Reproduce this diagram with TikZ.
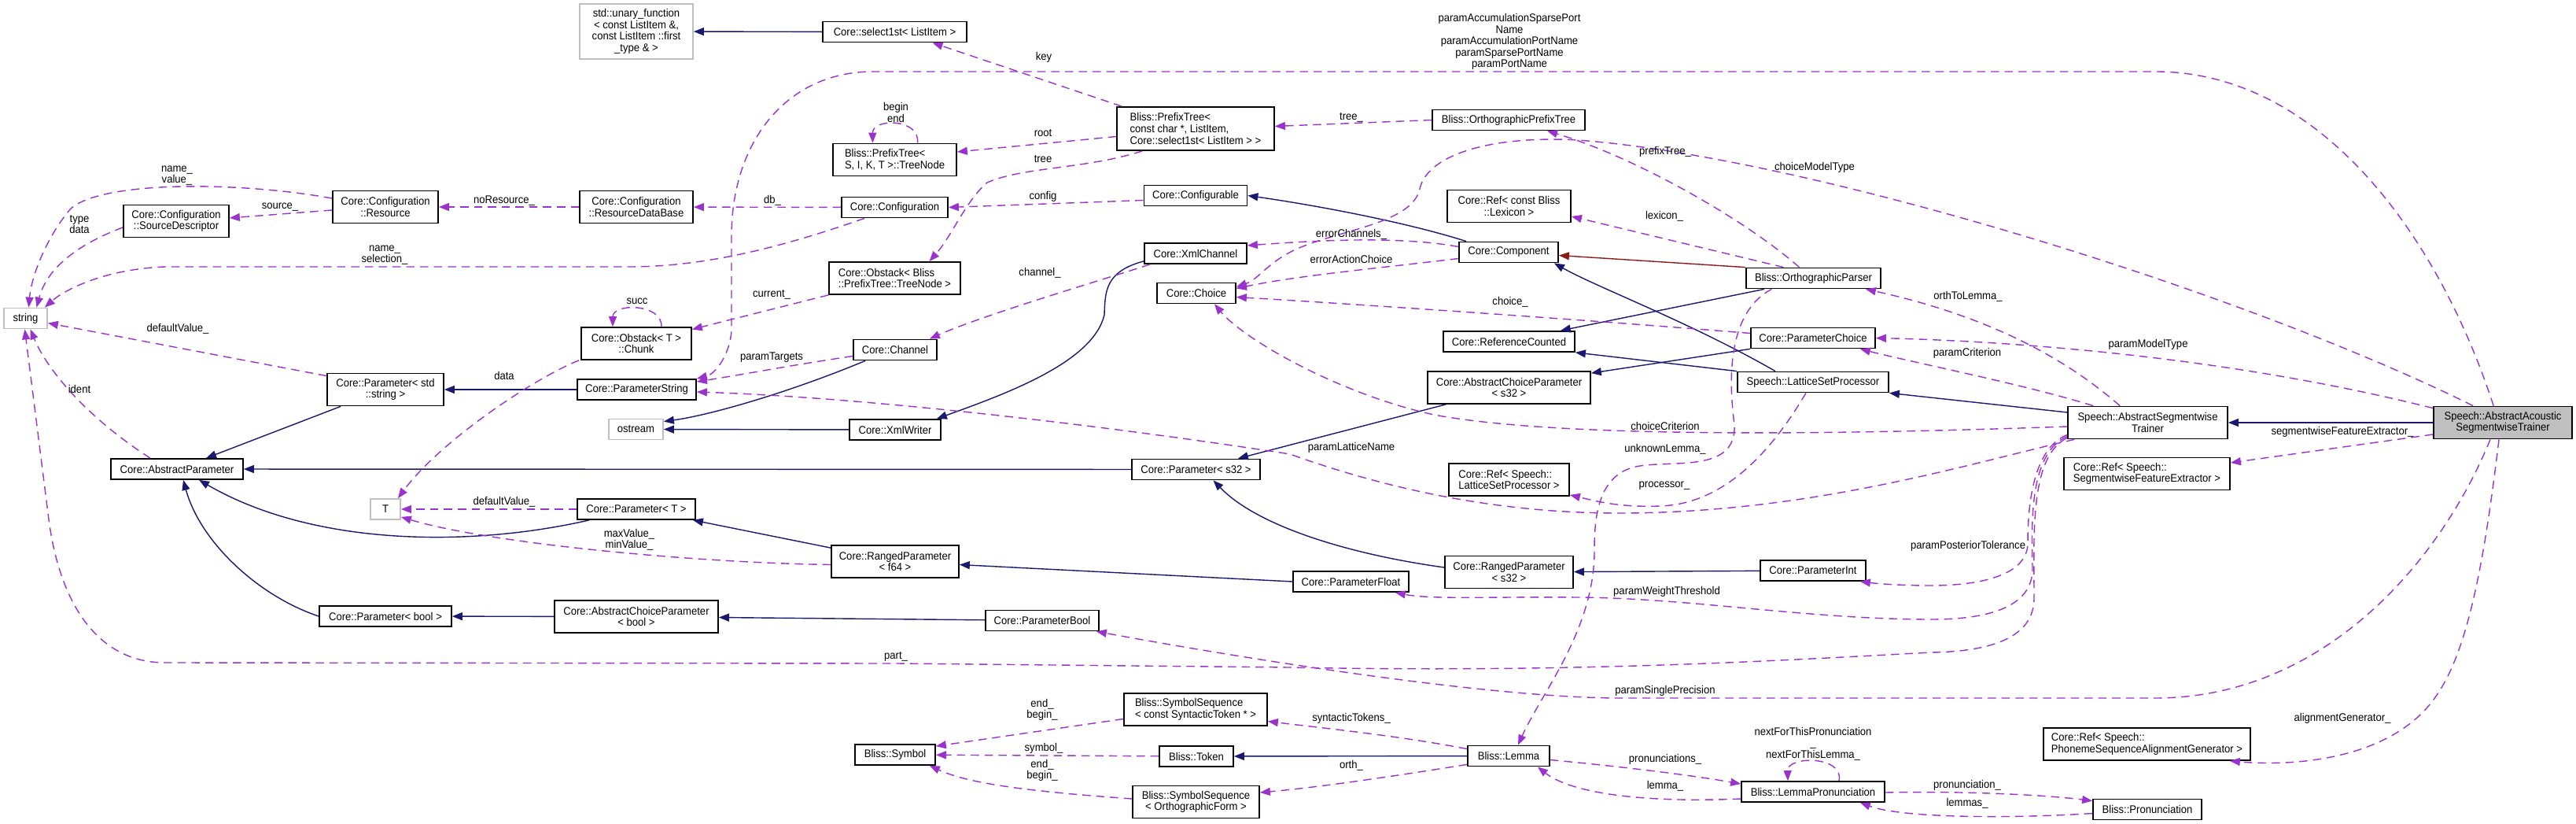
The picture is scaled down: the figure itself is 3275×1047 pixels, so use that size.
\documentclass[tikz,border=0pt]{standalone}
\usepackage{fontspec}
\setmainfont{Liberation Sans}[FakeStretch=0.93]
\usetikzlibrary{arrows.meta,calc}
\definecolor{dxnavy}{RGB}{25,25,112}
\definecolor{dxpurple}{RGB}{154,50,205}
\definecolor{dxred}{RGB}{139,26,26}
\definecolor{dxgray}{RGB}{191,191,191}

\begin{document}
\begin{tikzpicture}[x=0.02cm,y=-0.02cm,
    every node/.style={font=\fontsize{8}{8.3}\selectfont},
    cls/.style={draw=black,line width=1pt,fill=white,inner sep=1pt,align=center},
    ext/.style={cls,draw=dxgray},
    focus/.style={cls,fill=dxgray},
    h1/.style={minimum height=0.52cm},
    h2/.style={minimum height=0.82cm},
    h3/.style={minimum height=1.1cm},
    h4/.style={minimum height=1.4cm},
    inh/.style={draw=dxnavy,line width=0.8pt,-{Triangle[length=0.26cm,width=0.2cm]}},
    prot/.style={inh,draw=dxred},
    uses/.style={draw=dxpurple,line width=0.8pt,dash pattern=on 6pt off 4pt,-{Triangle[length=0.26cm,width=0.2cm]}},
    lbl/.style={inner sep=0pt,align=center}
  ]
  \useasboundingbox (0,0) rectangle (3275,1047);

  % classes
  \node[ext,h4,minimum width=2.88cm] (unary) at (809,40) {std::unary\_function\\< const ListItem \&,\\ const ListItem ::first\\\_type \& >};
  \node[cls,h1,minimum width=3.66cm] (select1st) at (1137.5,40.5) {Core::select1st< ListItem >};
  \node[cls,h2,minimum width=2.68cm] (resource) at (490,263) {Core::Configuration\\::Resource};
  \node[cls,h2,minimum width=2.68cm] (srcdesc) at (224,281) {Core::Configuration\\::SourceDescriptor};
  \node[cls,h2,minimum width=2.88cm] (resdb) at (809,263) {Core::Configuration\\::ResourceDataBase};
  \node[cls,h2,minimum width=3.14cm,align=left] (treenode) at (1137.5,203) {Bliss::PrefixTree<\\ S, I, K, T >::TreeNode};
  \node[cls,h3,minimum width=4.0cm,align=left] (prefixtree) at (1520,163.5) {Bliss::PrefixTree<\\ const char *, ListItem,\\ Core::select1st< ListItem > >};
  \node[cls,h1,minimum width=2.70cm] (configuration) at (1137.5,263.5) {Core::Configuration};
  \node[cls,h1,minimum width=2.62cm] (configurable) at (1520,248.5) {Core::Configurable};
  \node[cls,h1,minimum width=2.60cm] (xmlchannel) at (1520,322) {Core::XmlChannel};
  \node[cls,h2,minimum width=3.34cm,align=left] (obstacktree) at (1137.5,353.5) {Core::Obstack< Bliss\\::PrefixTree::TreeNode >};
  \node[cls,h1,minimum width=3.88cm] (orthprefix) at (1918,152.5) {Bliss::OrthographicPrefixTree};
  \node[cls,h2,minimum width=3.14cm] (reflexicon) at (1918.5,262) {Core::Ref< const Bliss\\::Lexicon >};
  \node[cls,h1,minimum width=2.52cm] (component) at (1918,320.5) {Core::Component};
  \node[cls,h1,minimum width=3.42cm] (orthparser) at (2305.5,353.5) {Bliss::OrthographicParser};
  \node[ext,h1,minimum width=1.10cm] (string) at (32.5,404.5) {string};
  \node[cls,h2,minimum width=2.96cm] (paramstd) at (490,495) {Core::Parameter< std\\::string >};
  \node[cls,h1,minimum width=3.36cm] (abstractparam) at (225,596) {Core::AbstractParameter};
  \node[ext,h1,minimum width=0.76cm] (T) at (490,647) {T};
  \node[cls,h2,minimum width=2.80cm] (chunk) at (809,436.5) {Core::Obstack< T >\\::Chunk};
  \node[cls,h1,minimum width=3.02cm] (paramstring) at (809.5,495) {Core::ParameterString};
  \node[ext,h1,minimum width=1.38cm] (ostream) at (808.5,545.5) {ostream};
  \node[cls,h1,minimum width=3.0cm] (paramT) at (809,647) {Core::Parameter< T >};
  \node[cls,h1,minimum width=2.12cm] (channel) at (1138,444.5) {Core::Channel};
  \node[cls,h1,minimum width=2.32cm] (xmlwriter) at (1138,546) {Core::XmlWriter};
  \node[cls,h1,minimum width=2.0cm] (choice) at (1521,372.5) {Core::Choice};
  \node[cls,h1,minimum width=3.26cm] (params32) at (1520.5,596.5) {Core::Parameter< s32 >};
  \node[cls,h2,minimum width=3.24cm] (rangedf64) at (1138,713.5) {Core::RangedParameter\\< f64 >};
  \node[cls,h1,minimum width=3.34cm] (refcounted) at (1918.5,434) {Core::ReferenceCounted};
  \node[cls,h1,minimum width=3.16cm] (paramchoice) at (2305,429.5) {Core::ParameterChoice};
  \node[cls,h2,minimum width=4.14cm] (abschoices32) at (1918.5,492.5) {Core::AbstractChoiceParameter\\< s32 >};
  \node[cls,h1,minimum width=3.84cm] (lsp) at (2305,485.5) {Speech::LatticeSetProcessor};
  \node[cls,h2,minimum width=3.06cm,align=left] (reflsp) at (1918.5,609.5) {Core::Ref< Speech::\\LatticeSetProcessor >};
  \node[cls,h2,minimum width=4.06cm] (aswt) at (2730.5,537) {Speech::AbstractSegmentwise\\Trainer};
  \node[focus,h2,minimum width=3.52cm] (aaswt) at (3182,537) {Speech::AbstractAcoustic\\SegmentwiseTrainer};
  \node[cls,h2,minimum width=4.22cm,align=left] (refsfe) at (2729.5,602) {Core::Ref< Speech::\\SegmentwiseFeatureExtractor >};
  \node[cls,h1,minimum width=3.36cm] (parbool) at (490,783) {Core::Parameter< bool >};
  \node[cls,h2,minimum width=4.16cm] (abschoicebool) at (809,783.5) {Core::AbstractChoiceParameter\\< bool >};
  \node[cls,h1,minimum width=2.88cm] (parameterbool) at (1325,788.5) {Core::ParameterBool};
  \node[cls,h2,minimum width=3.64cm,align=left] (symseqsyn) at (1520,901.5) {Bliss::SymbolSequence\\< const SyntacticToken * >};
  \node[cls,h1,minimum width=2.04cm] (symbol) at (1138,959) {Bliss::Symbol};
  \node[cls,h1,minimum width=1.88cm] (token) at (1521,961) {Bliss::Token};
  \node[cls,h2,minimum width=3.22cm] (symseqorth) at (1520.5,1019) {Bliss::SymbolSequence\\< OrthographicForm >};
  \node[cls,h2,minimum width=3.26cm] (rangeds32) at (1918.5,727) {Core::RangedParameter\\< s32 >};
  \node[cls,h1,minimum width=2.94cm] (paramfloat) at (1717.5,739) {Core::ParameterFloat};
  \node[cls,h1,minimum width=2.68cm] (paramint) at (2305,725) {Core::ParameterInt};
  \node[cls,h1,minimum width=2.08cm] (lemma) at (1918,960.5) {Bliss::Lemma};
  \node[cls,h1,minimum width=3.64cm] (lemmapron) at (2305,1006) {Bliss::LemmaPronunciation};
  \node[cls,h2,minimum width=5.26cm,align=left] (refpsag) at (2729.5,945.5) {Core::Ref< Speech::\\PhonemeSequenceAlignmentGenerator >};
  \node[cls,h1,minimum width=2.76cm] (pron) at (2730,1028.5) {Bliss::Pronunciation};

  % inheritance
  \draw[inh] (select1st) -- (unary);
  \draw[inh] ($(component.north west)+(10,0)$) .. controls (1780,280) and (1660,259) .. (configurable.east);
  \draw[prot] (orthparser.north west) -- ($(component.east)+(0,4)$);
  \draw[inh] ($(lsp.north)+(-48,0)$) .. controls (2150,410) and (2030,365) .. ($(component.south east)+(-6,0)$);
  \draw[inh] ($(xmlchannel.south west)+(0,-4)$) .. controls (1405,345) and (1405,370) .. (1404,400) .. controls (1390,460) and (1280,500) .. ($(xmlwriter.north east)+(-6,0)$);
  \draw[inh] (xmlwriter) -- (ostream);
  \draw[inh] ($(channel.south west)+(16,0)$) .. controls (1000,500) and (900,528) .. ($(ostream.east)+(0,-10)$);
  \draw[inh] (paramstring) -- (paramstd);
  \draw[inh] ($(paramstd.south west)+(18,0)$) -- ($(abstractparam.north)+(37,0)$);
  \draw[inh] (params32) -- (abstractparam);
  \draw[inh] ($(paramT.south west)+(16,0)$) .. controls (600,695) and (400,695) .. ($(abstractparam.south)+(28,0)$);
  \draw[inh] (parbool.west) .. controls (330,758) and (255,690) .. ($(abstractparam.south)+(8,0)$);
  \draw[inh] ($(rangedf64.north west)+(0,4)$) -- ($(paramT.south east)+(-4,0)$);
  \draw[inh] (abschoicebool) -- (parbool);
  \draw[inh] (parameterbool) -- (abschoicebool);
  \draw[inh] (paramfloat.west) -- ($(rangedf64.east)+(0,4)$);
  \draw[inh] ($(rangeds32.west)+(0,-6)$) .. controls (1720,705) and (1600,670) .. ($(params32.south)+(22,0)$);
  \draw[inh] (paramint) -- (rangeds32);
  \draw[inh] ($(abschoices32.south west)+(24,0)$) -- ($(params32.north east)+(-29,0)$);
  \draw[inh] (paramchoice.south west) -- ($(abschoices32.north east)+(0,3)$);
  \draw[inh] (lsp.north west) -- (refcounted.south east);
  \draw[inh] ($(orthparser.south west)+(24,0)$) -- ($(refcounted.north east)+(-19,0)$);
  \draw[inh] ($(aswt.west)+(0,-13)$) -- (lsp.south east);
  \draw[inh] (aaswt) -- (aswt);
  \draw[inh] (lemma) -- (token);

  % usage
  \draw[uses] ($(prefixtree.north west)+(7,0)$) -- ($(select1st.south)+(48,0)$);
  \draw[uses] ($(prefixtree.west)+(0,10)$) -- ($(treenode.east)+(0,-10)$);
  \draw[uses] ($(treenode.north)+(29,0)$) .. controls (1170,150) and (1109,150) .. ($(treenode.north)+(-28,0)$);
  \draw[uses] ($(prefixtree.south west)+(33,0)$) .. controls (1380,215) and (1300,212) .. (1255,232) .. controls (1228,255) and (1210,300) .. ($(obstacktree.north)+(44,0)$);
  \draw[uses] (orthprefix.west) -- ($(prefixtree.east)+(0,-3)$);
  \draw[uses] ($(orthparser.north)+(-18,0)$) .. controls (2220,280) and (2080,200) .. ($(orthprefix.south)+(49,0)$);
  \draw[uses] ($(aaswt.north west)+(51,0)$) .. controls (2850,370) and (2300,200) .. (2006,178) .. controls (1900,172) and (1815,195) .. (1805,240) .. controls (1795,285) and (1700,292) .. (1645,318) .. controls (1610,335) and (1600,355) .. ($(choice.east)+(0,-8)$);
  \draw[uses] ($(orthparser.north)+(-38,0)$) -- ($(reflexicon.east)+(0,13)$);
  \draw[uses] ($(component.west)+(0,-7)$) .. controls (1780,300) and (1680,305) .. ($(xmlchannel.east)+(0,-10)$);
  \draw[uses] ($(component.west)+(0,8)$) .. controls (1760,340) and (1650,350) .. ($(choice.east)+(0,-6)$);
  \draw[uses] ($(configurable.west)+(0,6)$) -- (configuration.east);
  \draw[uses] (configuration) -- (resdb);
  \draw[uses] (resdb) -- (resource);
  \draw[uses] ($(resource.west)+(0,4)$) -- ($(srcdesc.east)+(0,-4)$);
  \draw[uses] ($(resource.west)+(0,-11)$) .. controls (300,230) and (130,230) .. (90,265) .. controls (60,300) and (40,350) .. ($(string.north)+(4,0)$);
  \draw[uses] ($(srcdesc.west)+(0,8)$) .. controls (100,310) and (60,340) .. ($(string.north)+(14,0)$);
  \draw[uses] ($(configuration.south west)+(30,0)$) .. controls (1000,312) and (900,339) .. (800,339) -- (210,339) .. controls (130,342) and (80,370) .. ($(string.north east)+(-4,0)$);
  \draw[uses] ($(aaswt.north west)+(77,0)$) .. controls (3100,300) and (2950,91) .. (2740,91) -- (1110,91) .. controls (1000,91) and (930,180) .. (930,300) -- (930,420) .. controls (928,450) and (910,475) .. (paramstring.north east);
  \draw[uses] ($(channel.west)+(0,8)$) .. controls (1000,465) and (950,475) .. ($(paramstring.east)+(0,-10)$);
  \draw[uses] ($(xmlchannel.south west)+(8,0)$) .. controls (1420,350) and (1250,400) .. ($(channel.north east)+(-10,0)$);
  \draw[uses] (obstacktree.south west) -- ($(chunk.east)+(0,-18)$);
  \draw[uses] ($(chunk.north)+(32,0)$) .. controls (842,385) and (779,385) .. ($(chunk.north)+(-30,0)$);
  \draw[uses] ($(chunk.south west)+(-2,0)$) .. controls (680,480) and (560,560) .. ($(T.north east)+(-4,0)$);
  \draw[uses] (paramT) -- (T);
  \draw[uses] ($(rangedf64.west)+(0,4)$) .. controls (880,715) and (620,690) .. ($(T.south east)+(0,-4)$);
  \draw[uses] ($(paramstd.north west)+(0,4)$) -- ($(string.east)+(0,6)$);
  \draw[uses] ($(abstractparam.north)+(-34,0)$) .. controls (110,530) and (60,470) .. ($(string.south)+(6,0)$);
  \draw[uses] ($(aswt.south west)+(0,-6)$) .. controls (2585,570) and (2578,640) .. (2578,690) .. controls (2578,730) and (2520,744) .. (2455,744) .. controls (2420,744) and (2390,742) .. ($(paramint.south east)+(-8,0)$);
  \draw[uses] ($(aswt.south west)+(0,-4)$) .. controls (2583,575) and (2582,650) .. (2584,720) .. controls (2586,775) and (2520,787) .. (2455,787) .. controls (2300,787) and (2150,760) .. (2006,759) .. controls (1900,758) and (1820,762) .. ($(paramfloat.south east)+(-18,0)$);
  \draw[uses] ($(aswt.south west)+(0,-2)$) .. controls (2580,580) and (2586,680) .. (2586,760) .. controls (2586,815) and (2520,828) .. (2455,829) .. controls (2250,840) and (2000,855) .. (1640,848) -- (1140,843) -- (210,842) .. controls (120,842) and (75,760) .. (62,660) -- ($(string.south)+(-1,0)$);
  \draw[uses] ($(aaswt.south)+(-16,0)$) .. controls (3100,720) and (2950,887) .. (2740,887) -- (2060,887) .. controls (1900,887) and (1600,840) .. ($(parameterbool.south east)+(-4,0)$);
  \draw[uses] ($(aaswt.south)+(-5,0)$) .. controls (3160,700) and (3140,820) .. (3100,880) .. controls (3050,960) and (2930,975) .. ($(refpsag.south east)+(-27,0)$);
  \draw[uses] ($(aaswt.west)+(0,15)$) -- ($(refsfe.east)+(0,-14)$);
  \draw[uses] ($(aaswt.north west)+(0,3)$) .. controls (2800,445) and (2500,432) .. (paramchoice.east);
  \draw[uses] ($(aswt.north west)+(33,0)$) .. controls (2580,490) and (2430,460) .. ($(paramchoice.south east)+(-20,0)$);
  \draw[uses] ($(aswt.north west)+(67,0)$) .. controls (2620,450) and (2520,400) .. ($(orthparser.south east)+(-20,0)$);
  \draw[uses] ($(aswt.west)+(0,5)$) .. controls (2400,550) and (2000,560) .. (1823,527) .. controls (1700,500) and (1580,430) .. ($(choice.south)+(23,0)$);
  \draw[uses] ($(aswt.south west)+(9,0)$) .. controls (2500,590) and (2300,652) .. (2058,652) .. controls (1900,652) and (1760,620) .. (1640,577) .. controls (1400,540) and (1100,505) .. ($(paramstring.east)+(0,3)$);
  \draw[uses] ($(lsp.south)+(-9,0)$) .. controls (2260,560) and (2200,640) .. (2111,643) .. controls (2060,645) and (2030,637) .. ($(reflsp.south east)+(0,-2)$);
  \draw[uses] ($(orthparser.south)+(-53,0)$) .. controls (2190,400) and (2200,500) .. (2205,540) .. controls (2208,600) and (2130,585) .. (2085,592) .. controls (2030,600) and (2027,660) .. (2027,700) .. controls (2027,800) and (1960,880) .. ($(lemma.north)+(12,0)$);
  \draw[uses] ($(paramchoice.west)+(0,-6)$) .. controls (2000,405) and (1700,385) .. ($(choice.east)+(0,5)$);
  \draw[uses] ($(lemma.north west)+(0,5)$) .. controls (1780,935) and (1680,925) .. ($(symseqsyn.east)+(0,15)$);
  \draw[uses] ($(lemma.south west)+(0,-3)$) .. controls (1780,985) and (1680,1000) .. ($(symseqorth.east)+(0,-12)$);
  \draw[uses] ($(symseqsyn.west)+(0,12)$) -- ($(symbol.north east)+(0,3)$);
  \draw[uses] (token) -- (symbol);
  \draw[uses] ($(symseqorth.west)+(0,-4)$) .. controls (1300,1005) and (1230,995) .. ($(symbol.south east)+(-8,0)$);
  \draw[uses] ($(lemma.east)+(0,5)$) .. controls (2070,975) and (2150,985) .. ($(lemmapron.west)+(0,-10)$);
  \draw[uses] ($(lemmapron.west)+(0,9)$) .. controls (2100,1020) and (2000,1010) .. ($(lemma.south east)+(-16,0)$);
  \draw[uses] ($(lemmapron.north)+(33,0)$) .. controls (2345,960) and (2272,960) .. ($(lemmapron.north)+(-32,0)$);
  \draw[uses] ($(lemmapron.east)+(0,1)$) .. controls (2500,1005) and (2600,1010) .. ($(pron.north west)+(0,3)$);
  \draw[uses] ($(pron.west)+(0,5)$) .. controls (2560,1040) and (2420,1040) .. ($(lemmapron.south east)+(-32,0)$);

  % edge labels
  \node[lbl] (lbkey) at (1327,73) {key};
  \node[lbl] (lbbegin) at (1139,143) {begin\\end};
  \node[lbl] (lbroot) at (1326,169) {root};
  \node[lbl] (lbtree) at (1326,202) {tree};
  \node[lbl] (lbtreeu) at (1718,149) {tree\_};
  \node[lbl] (lbprefix) at (2117,193) {prefixTree\_};
  \node[lbl] (lbchmodel) at (2307,213) {choiceModelType};
  \node[lbl] (lblexicon) at (2116,275) {lexicon\_};
  \node[lbl] (lberrch) at (1718,298) {errorChannels\_};
  \node[lbl] (lberract) at (1718,329) {errorActionChoice};
  \node[lbl] (lbconfig) at (1326,250) {config};
  \node[lbl] (lbdb) at (982,255) {db\_};
  \node[lbl] (lbnores) at (641,255) {noResource\_};
  \node[lbl] (lbsource) at (356,263) {source\_};
  \node[lbl] (lbnameval) at (225,223) {name\_\\value\_};
  \node[lbl] (lbtype) at (101,285) {type\\data};
  \node[lbl] (lbnamesel) at (489,324) {name\_\\selection\_};
  \node[lbl] (lbports) at (1919,53) {paramAccumulationSparsePort\\Name\\paramAccumulationPortName\\paramSparsePortName\\paramPortName};
  \node[lbl] (lbtargets) at (981,454) {paramTargets};
  \node[lbl] (lbchannel) at (1322,347) {channel\_};
  \node[lbl] (lbcurrent) at (981,374) {current\_};
  \node[lbl] (lbsucc) at (810,383) {succ};
  \node[lbl] (lbdata) at (641,477) {data};
  \node[lbl] (lbdefT) at (641,638) {defaultValue\_};
  \node[lbl] (lbminmax) at (800,686) {maxValue\_\\minValue\_};
  \node[lbl] (lbdefstr) at (226,418) {defaultValue\_};
  \node[lbl] (lbident) at (101,494) {ident};
  \node[lbl] (lbpart) at (1139,834) {part\_};
  \node[lbl] (lbalign) at (2978,913) {alignmentGenerator\_};
  \node[lbl] (lbsfe) at (2978,549) {segmentwiseFeatureExtractor\_};
  \node[lbl] (lbmodel) at (2731,438) {paramModelType};
  \node[lbl] (lbcrit) at (2501,449) {paramCriterion};
  \node[lbl] (lborth2lem) at (2502,377) {orthToLemma\_};
  \node[lbl] (lbchcrit) at (2117,541) {choiceCriterion};
  \node[lbl] (lblattice) at (1718,569) {paramLatticeName};
  \node[lbl] (lbproc) at (2116,617) {processor\_};
  \node[lbl] (lbunknown) at (2117,571) {unknownLemma\_};
  \node[lbl] (lbsyntok) at (1718,913) {syntacticTokens\_};
  \node[lbl] (lborth) at (1718,973) {orth\_};
  \node[lbl] (lbendsyn) at (1325,902) {end\_\\begin\_};
  \node[lbl] (lbsymbol) at (1327,951) {symbol\_};
  \node[lbl] (lbendorth) at (1325,979) {end\_\\begin\_};
  \node[lbl] (lbprons) at (2117,965) {pronunciations\_};
  \node[lbl] (lblemma) at (2117,999) {lemma\_};
  \node[lbl] (lbnext) at (2305,945) {nextForThisPronunciation\\\_\\nextForThisLemma\_};
  \node[lbl] (lbpron) at (2501,998) {pronunciation\_};
  \node[lbl] (lblemmas) at (2501,1021) {lemmas\_};
  \node[lbl] (lbtol) at (2502,694) {paramPosteriorTolerance};
  \node[lbl] (lbweight) at (2119,752) {paramWeightThreshold};
  \node[lbl] (lbsingle) at (2117,878) {paramSinglePrecision};
  \node[lbl] (lbchoice) at (1920,384) {choice\_};
\end{tikzpicture}
\end{document}
